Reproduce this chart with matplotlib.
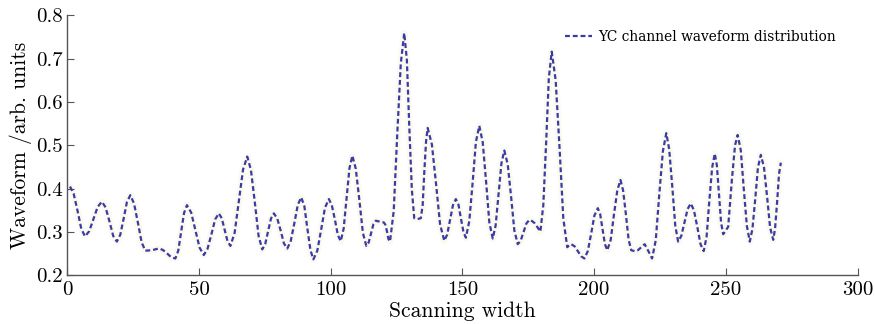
import matplotlib.pyplot as plt

# scanning position
xs = [1.0, 2.4, 3.9, 5.3, 6.7, 8.3, 9.9, 11.5, 13.1, 14.5, 16.0, 17.4, 18.8,
      20.1, 21.4, 22.6, 23.9, 25.3, 26.8, 28.2, 29.6, 32.1, 34.6, 36.2, 37.8,
      39.4, 41.0, 42.1, 43.2, 44.3, 45.4, 47.0, 48.6, 50.2, 51.8, 53.2, 54.7,
      56.1, 57.5, 58.6, 59.7, 60.8, 61.9, 63.5, 65.1, 66.7, 68.3, 69.7, 71.2,
      72.6, 74.0, 75.1, 76.2, 77.3, 78.4, 79.7, 81.0, 82.2, 83.5, 84.8, 86.2,
      87.5, 88.8, 90.0, 91.1, 92.3, 93.4, 94.9, 96.4, 97.8, 99.3, 100.4, 101.6,
      102.7, 103.8, 104.9, 106.0, 107.1, 108.2, 109.5, 110.9, 112.2, 113.5,
      114.4, 115.3, 116.2, 117.1, 118.7, 120.2, 120.8, 121.4, 121.9, 122.5,
      123.9, 125.2, 126.6, 127.9, 128.9, 129.8, 130.8, 131.7, 133.0, 134.2,
      134.9, 135.5, 136.2, 136.8, 138.4, 140.0, 141.5, 143.1, 144.2, 145.3,
      146.4, 147.5, 148.5, 149.4, 150.4, 151.3, 152.6, 153.9, 155.1, 156.4,
      157.7, 159.0, 160.2, 161.5, 162.6, 163.7, 164.8, 165.9, 167.2, 168.5,
      169.7, 171.0, 172.1, 173.2, 174.3, 175.4, 176.5, 177.5, 178.6, 179.6,
      180.7, 181.8, 182.8, 183.9, 185.4, 186.9, 188.3, 189.8, 190.6, 191.3,
      192.6, 193.8, 195.1, 196.3, 197.6, 198.9, 200.1, 201.4, 202.3, 203.2,
      204.1, 205.0, 206.3, 207.5, 208.8, 210.0, 211.0, 212.1, 213.1, 214.1,
      215.4, 216.6, 217.9, 219.2, 220.6, 222.0, 223.4, 224.7, 226.1, 227.4,
      228.5, 229.7, 230.8, 231.9, 233.1, 234.3, 235.5, 236.7, 237.9, 239.2,
      240.4, 241.6, 242.7, 243.7, 244.8, 245.8, 246.6, 247.4, 248.2, 249.0,
      250.9, 252.3, 253.5, 254.5, 255.7, 256.8, 258.0, 259.1, 260.1, 261.2,
      262.2, 263.3, 264.5, 265.7, 266.8, 268.0, 268.7, 269.5, 270.2, 270.9]

# waveform amplitude, arb. units
ys = [0.405, 0.388, 0.348, 0.307, 0.290, 0.302, 0.330, 0.358, 0.370, 0.357,
      0.324, 0.291, 0.278, 0.294, 0.332, 0.369, 0.385, 0.366, 0.321, 0.276,
      0.257, 0.258, 0.262, 0.259, 0.251, 0.242, 0.239, 0.257, 0.301, 0.344,
      0.362, 0.345, 0.305, 0.264, 0.247, 0.261, 0.295, 0.329, 0.343, 0.332,
      0.306, 0.279, 0.268, 0.298, 0.371, 0.444, 0.474, 0.443, 0.367, 0.291,
      0.260, 0.272, 0.302, 0.331, 0.343, 0.331, 0.303, 0.274, 0.262, 0.279,
      0.321, 0.363, 0.380, 0.359, 0.309, 0.258, 0.237, 0.257, 0.307, 0.356,
      0.376, 0.362, 0.328, 0.293, 0.279, 0.308, 0.378, 0.447, 0.476, 0.446,
      0.372, 0.298, 0.268, 0.276, 0.297, 0.318, 0.326, 0.324, 0.322, 0.316,
      0.300, 0.284, 0.278, 0.348, 0.519, 0.689, 0.759, 0.697, 0.546, 0.397,
      0.332, 0.330, 0.332, 0.362, 0.436, 0.510, 0.540, 0.502, 0.410, 0.318,
      0.280, 0.294, 0.328, 0.362, 0.376, 0.363, 0.332, 0.300, 0.287, 0.325,
      0.416, 0.507, 0.545, 0.507, 0.415, 0.323, 0.285, 0.315, 0.387, 0.458,
      0.488, 0.456, 0.380, 0.304, 0.272, 0.280, 0.300, 0.320, 0.328, 0.325,
      0.320, 0.310, 0.301, 0.362, 0.509, 0.655, 0.716, 0.650, 0.491, 0.331,
      0.265, 0.270, 0.272, 0.267, 0.256, 0.244, 0.239, 0.256, 0.297, 0.338,
      0.355, 0.341, 0.307, 0.272, 0.258, 0.282, 0.339, 0.396, 0.420, 0.396,
      0.339, 0.282, 0.258, 0.256, 0.258, 0.265, 0.272, 0.256, 0.239, 0.281,
      0.384, 0.486, 0.528, 0.491, 0.403, 0.315, 0.278, 0.291, 0.322, 0.353,
      0.366, 0.350, 0.311, 0.272, 0.256, 0.289, 0.369, 0.448, 0.481, 0.454,
      0.388, 0.322, 0.295, 0.312, 0.420, 0.500, 0.524, 0.488, 0.401, 0.314,
      0.278, 0.307, 0.378, 0.449, 0.478, 0.449, 0.380, 0.311, 0.282, 0.308,
      0.371, 0.434, 0.460]

xticks = [0, 50, 100, 150, 200, 250, 300]
yticks = [0.2, 0.3, 0.4, 0.5, 0.6, 0.7, 0.8]

plt.rcParams['font.family'] = 'cmr10'
plt.rcParams['axes.formatter.use_mathtext'] = True

fig = plt.figure(figsize=(8.75, 3.24), dpi=100)
ax = fig.add_axes([0.077, 0.150, 0.903, 0.803])

# faint halo behind the trace, as in the scanned figure
ax.plot(xs, ys, color='#fbfaf1', lw=5, solid_capstyle='round', zorder=1)
ax.plot(xs, ys, color='#3b3ba3', lw=1.6, dashes=(2.2, 1.3),
        label='YC channel waveform distribution', zorder=2)

ax.set_xlim(0, 300)
ax.set_ylim(0.2, 0.8)
ax.set_xticks(xticks)
ax.set_yticks(yticks)
ax.set_xticklabels([str(t) for t in xticks])
ax.set_yticklabels([f'{t:.1f}' for t in yticks])
ax.tick_params(direction='in', length=5, width=0.8, color='#555555',
               labelsize=15)
ax.tick_params(axis='x', pad=4)
ax.tick_params(axis='y', pad=3)
for s in ['top', 'right']:
    ax.spines[s].set_visible(False)
for s in ['left', 'bottom']:
    ax.spines[s].set_color('#555555')
    ax.spines[s].set_linewidth(1.0)

ax.set_xlabel('Scanning width', fontsize=15.5, labelpad=2)
ax.set_ylabel('Waveform /arb. units', fontsize=15.5, labelpad=3)

ax.legend(loc='upper right', bbox_to_anchor=(0.988, 0.99), frameon=False,
          handlelength=2.0, handletextpad=0.4,
          prop={'family': 'DejaVu Serif', 'size': 9.9})

fig.savefig('out.png', dpi=100)
